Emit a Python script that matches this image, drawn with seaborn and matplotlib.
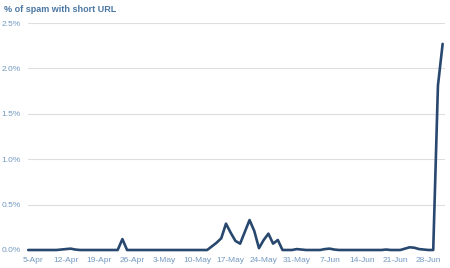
import matplotlib
matplotlib.use("Agg")
import matplotlib.pyplot as plt
import seaborn as sns
import pandas as pd

# ---- data (percent of spam with short URL, daily from 4-Apr to 1-Jul) ----
start_date = "2010-04-04"
spam_pct = [
    0, 0, 0, 0, 0, 0, 0,                    # 4-Apr .. 10-Apr
    0.005, 0.01, 0.015, 0.005,              # 11-Apr .. 14-Apr
    0, 0, 0, 0, 0, 0, 0, 0, 0,              # 15-Apr .. 23-Apr
    0.12,                                   # 24-Apr
    0, 0, 0, 0, 0, 0, 0, 0, 0, 0, 0, 0, 0, 0, 0, 0, 0,  # 25-Apr .. 11-May
    0,                                      # 12-May
    0.04, 0.08, 0.13, 0.29, 0.19, 0.10, 0.07, 0.20, 0.33,
    0.21, 0.02, 0.11, 0.18, 0.07, 0.11,     # 13-May .. 27-May
    0, 0, 0, 0.01, 0.005, 0, 0, 0, 0,       # 28-May .. 5-Jun
    0.01, 0.015, 0.005,                     # 6-Jun .. 8-Jun
    0, 0, 0, 0, 0, 0, 0, 0, 0, 0,           # 9-Jun .. 18-Jun
    0.005, 0, 0, 0,                         # 19-Jun .. 22-Jun
    0.015, 0.03, 0.025, 0.01, 0.005, 0, 0,  # 23-Jun .. 29-Jun
    1.81, 2.27,                             # 30-Jun, 1-Jul
]
tick_dates = ["2010-04-05", "2010-04-12", "2010-04-19", "2010-04-26",
              "2010-05-03", "2010-05-10", "2010-05-17", "2010-05-24",
              "2010-05-31", "2010-06-07", "2010-06-14", "2010-06-21",
              "2010-06-28"]
tick_labels = ["5-Apr", "12-Apr", "19-Apr", "26-Apr", "3-May", "10-May",
               "17-May", "24-May", "31-May", "7-Jun", "14-Jun", "21-Jun",
               "28-Jun"]
y_ticks = [0.0, 0.5, 1.0, 1.5, 2.0, 2.5]
title = "% of spam with short URL"

sns.set_style("white")
plt.rcParams['font.family'] = ['Liberation Sans', 'DejaVu Sans']

W, H = 450, 268
fig = plt.figure(figsize=(W / 100, H / 100), dpi=100)
ax = fig.add_axes([28 / W, 1 - 250 / H, (445 - 28) / W, (250 - 23) / H])

df = pd.DataFrame({
    "date": pd.date_range(start_date, periods=len(spam_pct), freq="D"),
    "pct": spam_pct,
})
sns.lineplot(data=df, x="date", y="pct", ax=ax, color="#28486f",
             linewidth=1.9, clip_on=False, zorder=3)

ax.set_ylim(0, 2.5)
ax.set_xlim(pd.Timestamp(start_date) - pd.Timedelta(hours=1),
            pd.Timestamp("2010-07-01") + pd.Timedelta(hours=12))

ax.set_yticks(y_ticks)
ax.set_yticklabels([f"{v:.1f}%" for v in y_ticks])
ax.set_xticks(pd.to_datetime(tick_dates))
ax.set_xticklabels(tick_labels)

label_color = "#7399c2"
ax.tick_params(axis="y", length=0, pad=5, labelsize=6, labelcolor=label_color)
ax.tick_params(axis="x", length=2, width=0.8, color="#c8c8c8", pad=3,
               labelsize=6, labelcolor=label_color, direction="out")

ax.yaxis.grid(True, color="#dedede", linewidth=0.8)
ax.xaxis.grid(False)
for s in ax.spines.values():
    s.set_visible(False)
ax.set_xlabel("")
ax.set_ylabel("")

fig.text(4 / W, 1 - 10 / H, title, fontweight="bold", color="#4a77a3",
         fontsize=6.5, va="center", ha="left")

fig.savefig("out.png", dpi=100)
